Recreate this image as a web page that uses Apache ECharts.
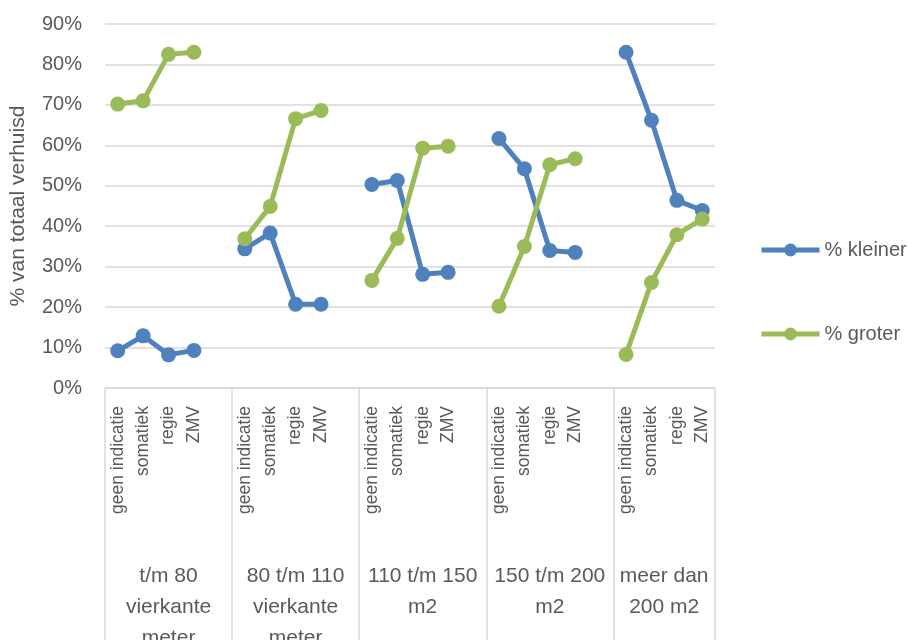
<!DOCTYPE html>
<html>
<head>
<meta charset="utf-8">
<script src="https://cdn.jsdelivr.net/npm/echarts@6/dist/echarts.min.js"></script>
<style>
  html, body { margin: 0; padding: 0; background: #fff; }
  #chart { width: 909px; height: 640px; }
</style>
</head>
<body>
<div id="chart"></div>
<script>
// group names (bottom row of the category axis)
const groups = [
  't/m 80\nvierkante\nmeter',
  '80 t/m 110\nvierkante\nmeter',
  '110 t/m 150\nm2',
  '150 t/m 200\nm2',
  'meer dan\n200 m2'
];
const types = ['geen indicatie', 'somatiek', 'regie', 'ZMV'];

// values in %, one row per group
const kleiner = [
  [9.2, 12.9, 8.2, 9.3],
  [34.4, 38.3, 20.7, 20.7],
  [50.3, 51.3, 28.1, 28.6],
  [61.7, 54.2, 34.0, 33.5],
  [83.0, 66.2, 46.4, 43.9]
];
const groter = [
  [70.2, 71.0, 82.5, 83.0],
  [36.9, 44.9, 66.6, 68.6],
  [26.6, 37.0, 59.3, 59.8],
  [20.2, 35.0, 55.2, 56.7],
  [8.3, 26.1, 37.9, 41.8]
];
const yTicks = [0, 10, 20, 30, 40, 50, 60, 70, 80, 90];

const textColor = '#595959';
const gridColor = '#d9d9d9';
const font = 'Liberation Sans, Arial, sans-serif';

// flatten with an empty slot between groups, like the sheet has
let cats = [], dKleiner = [], dGroter = [];
let groupStart = [], groupMid = [];
groups.forEach((g, gi) => {
  groupStart.push(cats.length);
  types.forEach((t, ti) => {
    cats.push(t);
    dKleiner.push(kleiner[gi][ti]);
    dGroter.push(groter[gi][ti]);
  });
  if (gi < groups.length - 1) {
    cats.push('');
    dKleiner.push(null);
    dGroter.push(null);
  }
});
const nCats = cats.length;
groupStart.forEach((s, i) => {
  const e = i < groupStart.length - 1 ? groupStart[i + 1] : nCats;
  groupMid.push((s + e) / 2);
});
const sepTicks = groupStart.concat([nCats]);

const chart = echarts.init(document.getElementById('chart'), null, {renderer: 'canvas'});

chart.setOption({
  animation: false,
  textStyle: {fontFamily: font},
  grid: {left: 105, right: 194, top: 24, bottom: 252, containLabel: false, outerBoundsMode: 'none'},
  legend: {
    orient: 'vertical',
    left: 754,
    top: 235,
    itemWidth: 58,
    itemHeight: 16,
    itemGap: 64,
    lineStyle: {width: 5},
    textStyle: {fontSize: 20, color: textColor, fontFamily: font},
    data: ['% kleiner', '% groter']
  },
  xAxis: [
    {
      type: 'category',
      data: cats,
      boundaryGap: true,
      axisLine: {show: true, lineStyle: {color: gridColor, width: 1.5}},
      axisTick: {show: false},
      axisLabel: {
        interval: 0,
        rotate: 90,
        margin: 18,
        fontSize: 17.5,
        color: textColor,
        fontFamily: font
      },
      splitLine: {show: false}
    },
    {
      type: 'value',
      min: 0,
      max: nCats,
      position: 'bottom',
      axisLine: {show: false},
      splitLine: {show: false},
      axisTick: {
        show: true,
        customValues: sepTicks,
        length: 252,
        lineStyle: {color: gridColor, width: 1.5}
      },
      axisLabel: {
        customValues: groupMid,
        margin: 173,
        fontSize: 21,
        lineHeight: 31,
        color: textColor,
        fontFamily: font,
        formatter: v => {
          const i = groupMid.indexOf(v);
          return i >= 0 ? groups[i] : '';
        }
      }
    }
  ],
  yAxis: {
    type: 'value',
    min: yTicks[0],
    max: yTicks[yTicks.length - 1],
    interval: 10,
    name: '% van totaal verhuisd',
    nameLocation: 'middle',
    nameGap: 76,
    nameTextStyle: {fontSize: 21, color: textColor, fontFamily: font},
    axisLine: {show: false},
    axisTick: {show: false},
    axisLabel: {
      fontSize: 20,
      margin: 23,
      color: textColor,
      fontFamily: font,
      formatter: v => v + '%'
    },
    splitLine: {lineStyle: {color: gridColor, width: 1.5}}
  },
  series: [
    {
      name: '% kleiner',
      type: 'line',
      data: dKleiner,
      connectNulls: false,
      symbol: 'circle',
      symbolSize: 15,
      lineStyle: {width: 5, color: '#4F81BD'},
      itemStyle: {color: '#4F81BD'}
    },
    {
      name: '% groter',
      type: 'line',
      data: dGroter,
      connectNulls: false,
      symbol: 'circle',
      symbolSize: 15,
      lineStyle: {width: 5, color: '#9BBB59'},
      itemStyle: {color: '#9BBB59'}
    }
  ]
});
</script>
</body>
</html>
